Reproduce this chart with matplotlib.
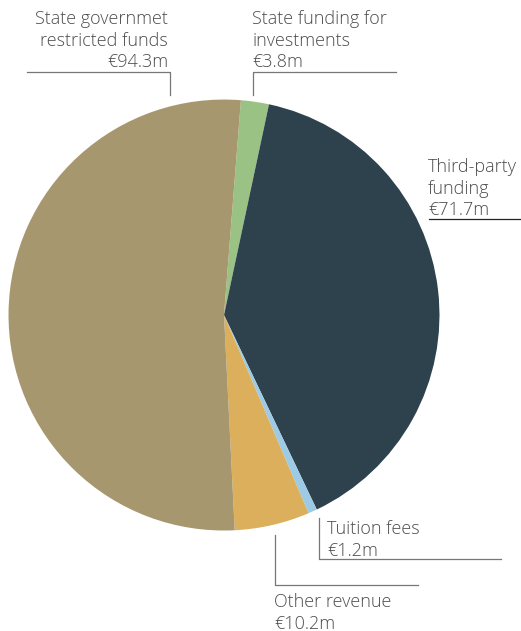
import matplotlib
matplotlib.use("Agg")
import matplotlib.pyplot as plt

# Revenue sources (EUR million), clockwise from the top
labels = ["State funding for\ninvestments", "Third-party\nfunding", "Tuition fees",
          "Other revenue", "State governmet\nrestricted funds"]
values = [3.8, 71.7, 1.2, 10.2, 94.3]
colors = ["#9bc285", "#2e424e", "#9dcbe5", "#dcaf5d", "#a6976e"]

W, H = 521, 631
fig = plt.figure(figsize=(W / 100, H / 100), dpi=100)
ax = fig.add_axes([0, 0, 1, 0.9999])
ax.set_xlim(0, W)
ax.set_ylim(0, H)

cx, cy, r = 224, H - 315, 215.5
ax.pie(values, colors=colors, startangle=85.5, counterclock=False,
       center=(cx, cy), radius=r, wedgeprops=dict(linewidth=0))
ax.set_xlim(0, W)
ax.set_ylim(0, H)
ax.set_aspect("equal")
ax.set_axis_off()

txt = "#4d4d4d"
line_c = "#777777"
fs = 13
font = dict(family=["Open Sans", "DejaVu Sans"], fontsize=fs, color=txt,
            linespacing=1.25, fontweight="light")


def Y(y):
    return H - y


def money(v):
    return f"€{v}m"


# State government restricted funds (top left)
ax.text(168, Y(10), labels[4] + "\n" + money(values[4]), ha="right", va="top", **font)
ax.plot([27, 170, 170], [Y(72), Y(72), Y(95)], color=line_c, lw=0.9)

# State funding for investments (top)
ax.text(252, Y(10), labels[0] + "\n" + money(values[0]), ha="left", va="top", **font)
ax.plot([396, 253, 253], [Y(72), Y(72), Y(95)], color=line_c, lw=0.9)

# Third-party funding (right)
ax.text(428, Y(158), labels[1] + "\n" + money(values[1]), ha="left", va="top", **font)
ax.plot([429, 521], [Y(219), Y(219)], color="#222222", lw=0.9)

# Tuition fees (bottom right)
ax.text(327, Y(520), labels[2] + "\n" + money(values[2]), ha="left", va="top", **font)
ax.plot([319, 319, 501], [Y(518), Y(559), Y(559)], color=line_c, lw=0.9)

# Other revenue (bottom)
ax.text(274, Y(593), labels[3] + "\n" + money(values[3]), ha="left", va="top", **font)
ax.plot([275, 275, 418], [Y(535), Y(585), Y(585)], color=line_c, lw=0.9)

fig.savefig("out.png", dpi=100, facecolor="white")
